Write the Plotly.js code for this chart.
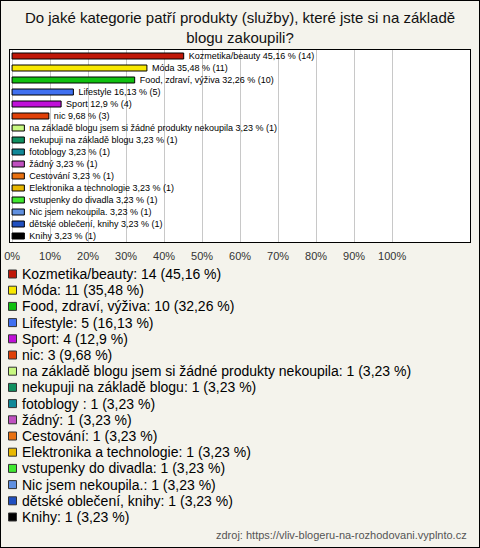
<!DOCTYPE html>
<html><head><meta charset="utf-8">
<script src="https://cdn.plot.ly/plotly-3.0.1.min.js"></script>
<style>
html,body{margin:0;padding:0;background:#f4f3ec;}
#wrap{position:absolute;left:0;top:0;width:480px;height:548px;box-sizing:border-box;border:1px solid #000;}
#chart{position:absolute;left:0;top:0;width:478px;height:546px;}
</style></head>
<body><div id="wrap"><div id="chart"></div></div>
<script>
const categories = ["Kozmetika/beauty","Móda","Food, zdraví, výživa","Lifestyle","Sport","nic","na základě blogu jsem si žádné produkty nekoupila","nekupuji na základě blogu","fotoblogy ","žádný","Cestování","Elektronika a technologie","vstupenky do divadla","Nic jsem nekoupila.","dětské oblečení, knihy","Knihy"];
const counts = [14,11,10,5,4,3,1,1,1,1,1,1,1,1,1,1];
const percents = [45.16,35.48,32.26,16.13,12.9,9.68,3.23,3.23,3.23,3.23,3.23,3.23,3.23,3.23,3.23,3.23];
const colors = ["#c01808","#f8e800","#10c010","#4070f0","#c010d8","#e04008","#c8f880","#109060","#108898","#c050c0","#e87010","#e8b800","#40e830","#6090e0","#2050c0","#000000"];
const tickVals = [0,10,20,30,40,50,60,70,80,90,100];
const tickText = tickVals.map(v => v + "%");

const fmt = v => String(v).replace(".", ",");
const barText = categories.map((c,i) => "\u00a0\u00a0" + c.trim() + " " + fmt(percents[i]) + " % (" + counts[i] + ")");
const legendText = categories.map((c,i) => c + ": " + counts[i] + " (" + fmt(percents[i]) + " %)");

const W = 478, H = 546;
const L = 9, R = 9, T = 49, B = 305;
const pw = W - L - R, ph = H - T - B;
const pxToPaperX = x => (x - L) / pw;
const pyToPaperY = y => (T + ph - y) / ph;

const trace = {
  type: "bar", orientation: "h",
  y: categories.map((c,i)=>i), x: percents,
  width: 0.5,
  marker: {color: colors, line: {color: "#000", width: 1}},
  text: barText, textposition: "outside", constraintext: "none", cliponaxis: false,
  textfont: {family: "Liberation Sans, Arial, sans-serif", size: 9, color: "#000"},
  hoverinfo: "none", showlegend: false
};

const annotations = [];
const shapes = [];
legendText.forEach((t,i) => {
  const cy = 273 + i * 16.2;
  annotations.push({
    xref: "paper", yref: "paper", x: pxToPaperX(19), y: pyToPaperY(cy),
    xanchor: "left", yanchor: "middle", text: t, showarrow: false,
    font: {family: "Liberation Sans, Arial, sans-serif", size: 14, color: "#000"}
  });
  shapes.push({
    type: "rect", xref: "paper", yref: "paper",
    x0: pxToPaperX(7.5), x1: pxToPaperX(15.5), y0: pyToPaperY(cy - 4), y1: pyToPaperY(cy + 4),
    fillcolor: colors[i], line: {color: "#333", width: 1}
  });
});
annotations.push({
  xref: "paper", yref: "paper", x: pxToPaperX(468), y: pyToPaperY(534),
  xanchor: "right", yanchor: "middle", showarrow: false,
  text: "zdroj: https://vliv-blogeru-na-rozhodovani.vyplnto.cz",
  font: {family: "Liberation Sans, Arial, sans-serif", size: 11, color: "#555"}
});

const layout = {
  width: W, height: H,
  paper_bgcolor: "#f4f3ec", plot_bgcolor: "#ffffff",
  margin: {l: L, r: R, t: T, b: B, pad: 0},
  title: {
    text: "Do jaké kategorie patří produkty (služby), které jste si na základě<br>blogu zakoupili?",
    x: 0.5, xanchor: "center", y: 1 - 22/H, yanchor: "top", yref: "container",
    font: {family: "Liberation Sans, Arial, sans-serif", size: 15, color: "#111"}
  },
  xaxis: {
    range: [-0.55, 120.5], tickvals: tickVals, ticktext: tickText,
    showgrid: true, gridcolor: "#c8c8c8", gridwidth: 1, zeroline: false,
    showline: true, linecolor: "#000", linewidth: 1, mirror: true,
    ticks: "", ticklabelstandoff: 4,
    tickfont: {family: "Liberation Sans, Arial, sans-serif", size: 11, color: "#333"},
    fixedrange: true
  },
  yaxis: {
    range: [15.5, -0.5], showticklabels: false, showgrid: false, zeroline: false,
    showline: true, linecolor: "#000", linewidth: 1, mirror: true, ticks: "", fixedrange: true
  },
  annotations: annotations, shapes: shapes,
  showlegend: false
};

Plotly.newPlot("chart", [trace], layout, {displayModeBar: false, staticPlot: true});
</script></body></html>
